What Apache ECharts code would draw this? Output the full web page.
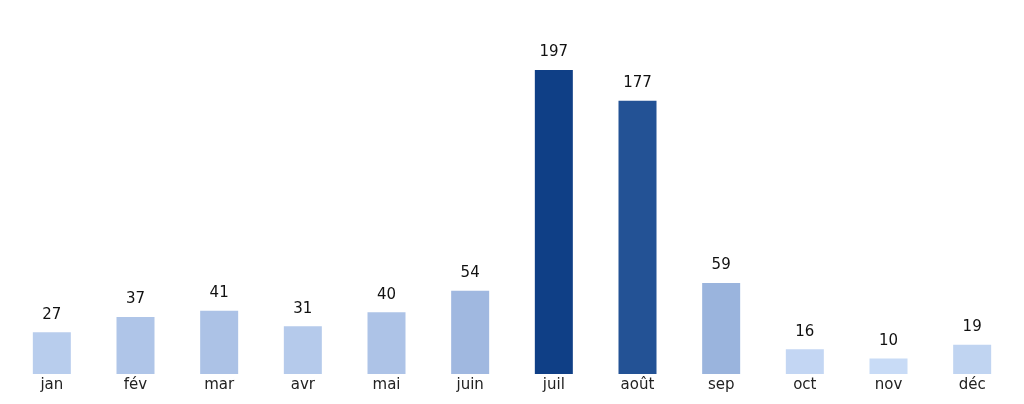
<!DOCTYPE html>
<html><head><meta charset="utf-8">
<script src="https://cdn.jsdelivr.net/npm/echarts@6/dist/echarts.min.js"></script>
<style>html,body{margin:0;padding:0;background:#fff}#c{width:1024px;height:404px}</style>
</head><body><div id="c"></div>
<script>
const categories = ['jan','fév','mar','avr','mai','juin','juil','août','sep','oct','nov','déc'];
const values = [27,37,41,31,40,54,197,177,59,16,10,19];
const chart = echarts.init(document.getElementById('c'));
chart.setOption({
  animation:false,
  grid:{left:10,right:10,top:70,bottom:30},
  visualMap:{show:false,min:10,max:197,dimension:1,inRange:{color:['#c8dbf6','#b5caeb','#a2bae1','#8da9d5','#7898c8','#6386bc','#4e75af','#3964a3','#245396','#0f3f86']}},
  xAxis:{type:'category',data:categories,axisLine:{show:false},axisTick:{show:false},
    axisLabel:{color:'#222',fontSize:15,fontFamily:'DejaVu Sans',margin:4}},
  yAxis:{type:'value',min:0,max:197,show:false,splitLine:{show:false}},
  series:[{type:'bar',data:values,barWidth:38,
    label:{show:true,position:'top',distance:10,color:'#111',fontSize:15,fontFamily:'DejaVu Sans'}}]
});
</script></body></html>
